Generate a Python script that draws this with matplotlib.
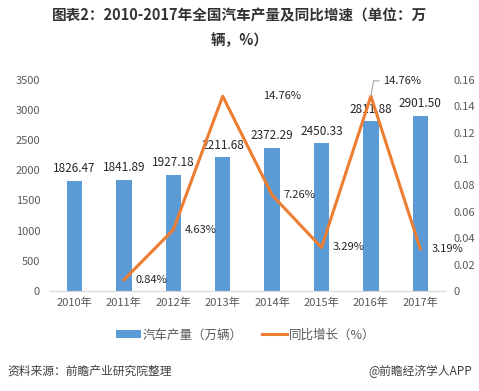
import matplotlib.pyplot as plt
from matplotlib.ticker import FuncFormatter

plt.rcParams['font.family'] = ['Noto Sans CJK SC', 'DejaVu Sans']

years = ['2010年', '2011年', '2012年', '2013年', '2014年', '2015年', '2016年', '2017年']
output = [1826.47, 1841.89, 1927.18, 2211.68, 2372.29, 2450.33, 2811.88, 2901.50]
growth = [None, 0.0084, 0.0463, 0.1476, 0.0726, 0.0329, 0.1476, 0.0319]
growth_labels = ['', '0.84%', '4.63%', '14.76%', '7.26%', '3.29%', '14.76%', '3.19%']
# label offsets in points (dx, dy) relative to each line point
label_offsets = [(0, 0), (8, 0), (8, 0), (29, 0), (8, 0), (8, 0), (9, 11), (8, 0)]

bar_color = '#5B9BD5'
line_color = '#ED7D31'
tick_color = '#595959'
text_color = '#262626'

fig = plt.figure(figsize=(4.79, 3.91), dpi=100)
ax = fig.add_axes([0.104, 0.256, 0.825, 0.54])
ax2 = ax.twinx()

x = list(range(len(years)))
bars = ax.bar(x, output, width=0.31, color=bar_color, label='汽车产量（万辆）', zorder=2)
for xi, v in zip(x, output):
    ax.annotate(f'{v:.2f}', (xi, v), xytext=(0, 4), textcoords='offset points',
                ha='center', va='bottom', fontsize=8.5, color=text_color)

gx = [xi for xi, g in zip(x, growth) if g is not None]
gy = [g for g in growth if g is not None]
line, = ax2.plot(gx, gy, color=line_color, linewidth=2.2, label='同比增长（%）', zorder=3)
for xi, g, lab, off in zip(x, growth, growth_labels, label_offsets):
    if g is None:
        continue
    if xi == 6:
        # 2016 label sits above the peak with a small leader line
        ax2.annotate(lab, (xi, g), xytext=off, textcoords='offset points',
                     ha='left', va='center', fontsize=8, color=text_color,
                     arrowprops=dict(arrowstyle='-', color='#a6a6a6', lw=0.8,
                                     shrinkA=1, shrinkB=0,
                                     connectionstyle='angle,angleA=0,angleB=80,rad=0'))
    else:
        ax2.annotate(lab, (xi, g), xytext=off, textcoords='offset points',
                     ha='left', va='center', fontsize=8, color=text_color)

ax.set_xlim(-0.5, len(years) - 0.5)
ax.set_ylim(0, 3500)
ax.set_yticks(range(0, 3501, 500))
ax2.set_ylim(0, 0.16)
ax2.set_yticks([0, 0.02, 0.04, 0.06, 0.08, 0.1, 0.12, 0.14, 0.16])
ax2.yaxis.set_major_formatter(FuncFormatter(lambda v, p: f'{v:g}'))
ax.set_xticks(x)
ax.set_xticklabels(years)

for a in (ax, ax2):
    for s in ('top', 'left', 'right'):
        a.spines[s].set_visible(False)
    a.spines['bottom'].set_color('#d9d9d9')
    a.tick_params(length=0, labelsize=8, colors=tick_color)
ax.tick_params(axis='y', pad=7)
ax.tick_params(axis='x', pad=5)
ax2.tick_params(axis='y', pad=6)

fig.legend(handles=[bars, line], labels=['汽车产量（万辆）', '同比增长（%）'],
           loc='center', bbox_to_anchor=(0.513, 0.143), ncol=2, frameon=False,
           fontsize=9, handlelength=2.0, handleheight=0.6, columnspacing=1.6,
           handletextpad=0.1, labelcolor=tick_color)

fig.text(0.5, 0.962, '图表2：2010-2017年全国汽车产量及同比增速（单位：万', ha='center',
         va='center', fontsize=10.5, fontweight='bold', color='#333333')
fig.text(0.5, 0.898, '辆，%）', ha='center', va='center', fontsize=10.5,
         fontweight='bold', color='#333333')

fig.text(0.015, 0.05, '资料来源：前瞻产业研究院整理', ha='left', va='center',
         fontsize=8.5, style='italic', color='#404040')
fig.text(0.985, 0.05, '@前瞻经济学人APP', ha='right', va='center',
         fontsize=8.5, color='#404040')

fig.savefig('out.png', dpi=100)
